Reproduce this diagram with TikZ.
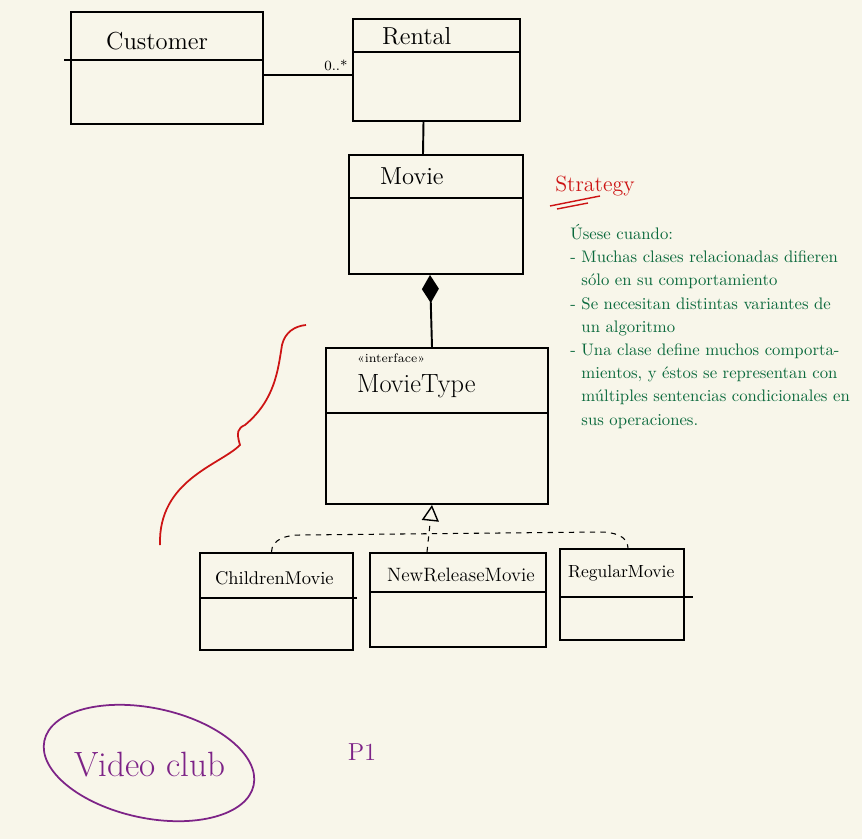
\documentclass[tikz,border=0pt]{standalone}
\usepackage{tikz}
\usetikzlibrary{arrows.meta}
\usetikzlibrary{calc}
\usepackage{xcolor}
\definecolor{paper}{RGB}{248,246,234}
\definecolor{inkred}{RGB}{205,20,20}
\definecolor{inkgreen}{RGB}{10,105,60}
\definecolor{inkpurple}{RGB}{125,35,135}
\begin{document}
\begin{tikzpicture}[x=0.02cm, y=-0.02cm,
	classbox/.style={draw, line width=1.1pt, inner sep=0pt},
	classname/.style={inner sep=1pt, anchor=west},
	part/.style={line width=1.1pt}]
	\fill[paper] (0,0) rectangle (862,839);
	\useasboundingbox (0,0) rectangle (862,839);
	% class boxes
	\node[classbox, minimum width=3.84cm, minimum height=2.24cm] (customer) at (167,68) {};
	\node[classbox, minimum width=3.34cm, minimum height=2.04cm] (rental) at (436.5,70) {};
	\node[classbox, minimum width=3.48cm, minimum height=2.38cm] (movie) at (436,214.5) {};
	\node[classbox, minimum width=4.44cm, minimum height=3.12cm] (movietype) at (437,426) {};
	\node[classbox, minimum width=3.06cm, minimum height=1.94cm] (children) at (276.5,601.5) {};
	\node[classbox, minimum width=3.52cm, minimum height=1.88cm] (newrelease) at (458,600) {};
	\node[classbox, minimum width=2.48cm, minimum height=1.82cm] (regular) at (622,594.5) {};
	\draw[part] (64,60) -- (263,60);
	\draw[part] (353,52) -- (520,52);
	\draw[part] (349,198) -- (523,198);
	\draw[part] (326,413) -- (548,413);
	\draw[part] (200,598) -- (357,598);
	\draw[part] (370,592) -- (546,592);
	\draw[part] (560,597) -- (693,597);
	% names
	\node[classname, font=\fontsize{14}{16}\selectfont] (customername) at (104,41) {Customer};
	\node[classname, font=\fontsize{14}{16}\selectfont] (rentalname) at (380,36) {Rental};
	\node[classname, font=\fontsize{14}{16}\selectfont] (moviename) at (378,176) {Movie};
	\node[classname, font=\fontsize{7}{8}\selectfont] (stereotype) at (355,358) {<<interface>>};
	\node[classname, font=\fontsize{15}{17}\selectfont] (movietypename) at (355,386) {MovieType};
	\node[classname, font=\fontsize{10.5}{12}\selectfont] (childrenname) at (213,578) {ChildrenMovie};
	\node[classname, font=\fontsize{11}{13}\selectfont] (newreleasename) at (385,575) {NewReleaseMovie};
	\node[classname, font=\fontsize{10}{12}\selectfont] (regularname) at (566,573) {RegularMovie};
	% relations
	\draw[line width=1.1pt] ($(customer.east)+(0,7)$) -- ($(rental.west)+(0,5)$)
	  node[above left, inner sep=2pt, font=\fontsize{8}{9}\selectfont] (mult) {0..*};
	\draw[line width=1.1pt] ($(rental.south)+(-13,0)$) -- ($(movie.north)+(-13,0)$);
	\draw[line width=1.1pt, -{Diamond[fill=black, length=0.56cm, width=0.34cm]}]
	  ($(movietype.north)+(-5,0)$) -- ($(movie.south)+(-6,0)$);
	\draw[dashed, line width=0.6pt, -{Triangle[open, length=0.32cm, width=0.34cm, line width=0.8pt]}]
	  ($(newrelease.north)+(-31,0)$) -- ($(movietype.south)+(-5,0)$);
	\draw[dashed, line width=0.6pt] ($(children.north)+(-5,0)$) to[out=90, in=180] (300,535)
	  -- (600,532) to[out=0, in=90] ($(regular.north)+(6,0)$);
	% strategy note
	\draw[inkred, line width=1pt] (306,325) .. controls (295,326) and (285,332) .. (282,345)
	  .. controls (278,370) and (275,400) .. (245,425)
	  .. controls (238,428) and (236,432) .. (240,445)
	  .. controls (220,465) and (158,480) .. (160,545);
	\node[inkred, font=\fontsize{12.5}{14}\selectfont] (strategy) at (595,186) {Strategy};
	\draw[inkred, line width=0.8pt] (550,206) -- (600,196);
	\draw[inkred, line width=0.8pt] (557,209) -- (588,203);
	\node[inkgreen, anchor=north west, align=left, inner sep=0pt,
	  font=\fontsize{9.5}{13.2}\selectfont] (usage) at (570,224) {%
	  Úsese cuando:\\
	  - Muchas clases relacionadas difieren\\
	  \hphantom{- }sólo en su comportamiento\\
	  - Se necesitan distintas variantes de\\
	  \hphantom{- }un algoritmo\\
	  - Una clase define muchos comporta-\\
	  \hphantom{- }mientos, y éstos se representan con\\
	  \hphantom{- }múltiples sentencias condicionales en\\
	  \hphantom{- }sus operaciones.};
	% title
	\draw[inkpurple, line width=1pt, rotate around={-12:(149,763)}] (149,763) ellipse [x radius=2.14cm, y radius=1.1cm];
	\node[inkpurple, font=\fontsize{20}{24}\selectfont] (title) at (150,765) {Video club};
	\node[inkpurple, font=\fontsize{14}{16}\selectfont] (page) at (362,752) {P1};
\end{tikzpicture}
\end{document}
